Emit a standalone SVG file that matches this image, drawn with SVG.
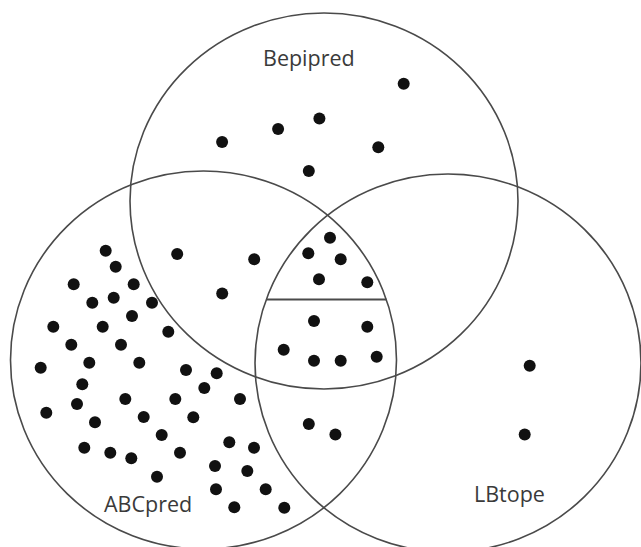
<svg xmlns="http://www.w3.org/2000/svg" width="641" height="547" viewBox="0 0 641 547">
<style>
.set{fill:none;stroke:#4a4a4a;stroke-width:1.6}
.lbl{font-family:"Open Sans","Noto Sans","DejaVu Sans",sans-serif;font-size:21.5px;fill:#3a3a3a}
.dots circle{fill:#111;r:6px}
.div{stroke:#4a4a4a;stroke-width:2}
</style>
<rect width="641" height="547" fill="#fff"/>
<g id="set-bepipred">
<ellipse class="set" cx="324" cy="201" rx="194" ry="188"/>
<text class="lbl" x="263" y="66">Bepipred</text>
</g>
<g id="set-abcpred">
<ellipse class="set" cx="203.5" cy="360" rx="193" ry="189"/>
<text class="lbl" x="104" y="512">ABCpred</text>
</g>
<g id="set-lbtope">
<ellipse class="set" cx="448" cy="363" rx="193" ry="189"/>
<text class="lbl" x="474" y="502">LBtope</text>
</g>
<g id="divider">
<line class="div" x1="266.5" y1="299.5" x2="386.5" y2="299.5"/>
</g>
<g id="dots-bepipred" class="dots">
<circle cx="403.7" cy="83.7" r="6"/><circle cx="319.4" cy="118.6" r="6"/><circle cx="278.1" cy="129.1" r="6"/>
<circle cx="222.1" cy="142" r="6"/><circle cx="378.3" cy="147.2" r="6"/><circle cx="308.8" cy="171" r="6"/>
</g>
<g id="dots-bepipred-abcpred" class="dots">
<circle cx="177.2" cy="254" r="6"/><circle cx="254.2" cy="259.3" r="6"/><circle cx="222.2" cy="293.5" r="6"/>
</g>
<g id="dots-all-upper" class="dots">
<circle cx="330" cy="237.7" r="6"/><circle cx="308.3" cy="253.3" r="6"/><circle cx="340.7" cy="259.3" r="6"/>
<circle cx="319" cy="279.3" r="6"/><circle cx="367.3" cy="282.3" r="6"/>
</g>
<g id="dots-all-lower" class="dots">
<circle cx="314" cy="321" r="6"/><circle cx="367.3" cy="326.7" r="6"/><circle cx="283.7" cy="349.7" r="6"/>
<circle cx="314" cy="360.7" r="6"/><circle cx="340.7" cy="360.7" r="6"/><circle cx="376.7" cy="356.7" r="6"/>
</g>
<g id="dots-abcpred-lbtope" class="dots">
<circle cx="308.8" cy="423.9" r="6"/><circle cx="335.4" cy="434.4" r="6"/>
</g>
<g id="dots-lbtope" class="dots">
<circle cx="529.7" cy="365.7" r="6"/><circle cx="524.7" cy="434.4" r="6"/>
</g>
<g id="dots-abcpred" class="dots">
<circle cx="105.7" cy="250.7" r="6"/><circle cx="115.7" cy="266.7" r="6"/><circle cx="73.7" cy="284.3" r="6"/>
<circle cx="133.7" cy="284.3" r="6"/><circle cx="113.7" cy="297.7" r="6"/><circle cx="92.3" cy="302.7" r="6"/>
<circle cx="152" cy="302.7" r="6"/><circle cx="132" cy="316" r="6"/><circle cx="53.3" cy="326.7" r="6"/>
<circle cx="102.7" cy="326.7" r="6"/><circle cx="168.3" cy="331.7" r="6"/><circle cx="71.3" cy="344.7" r="6"/>
<circle cx="121" cy="344.7" r="6"/><circle cx="40.7" cy="367.7" r="6"/><circle cx="89.3" cy="362.7" r="6"/>
<circle cx="139.3" cy="362.7" r="6"/><circle cx="186" cy="370" r="6"/><circle cx="216.7" cy="373.3" r="6"/>
<circle cx="82.3" cy="384.3" r="6"/><circle cx="204.3" cy="388" r="6"/><circle cx="125.3" cy="399" r="6"/>
<circle cx="175.3" cy="399" r="6"/><circle cx="240" cy="399" r="6"/><circle cx="77" cy="404" r="6"/>
<circle cx="46.3" cy="412.7" r="6"/><circle cx="95" cy="422.3" r="6"/><circle cx="143.7" cy="417" r="6"/>
<circle cx="193.3" cy="417.3" r="6"/><circle cx="161.7" cy="435" r="6"/><circle cx="229.3" cy="442.3" r="6"/>
<circle cx="254" cy="447.7" r="6"/><circle cx="84.3" cy="447.7" r="6"/><circle cx="110.3" cy="452.7" r="6"/>
<circle cx="131.3" cy="458.3" r="6"/><circle cx="180" cy="452.7" r="6"/><circle cx="215" cy="466" r="6"/>
<circle cx="247.3" cy="471" r="6"/><circle cx="157" cy="476.7" r="6"/><circle cx="216" cy="489.3" r="6"/>
<circle cx="265.7" cy="489.3" r="6"/><circle cx="234.3" cy="507.3" r="6"/><circle cx="284.3" cy="507.7" r="6"/>
</g>
</svg>
